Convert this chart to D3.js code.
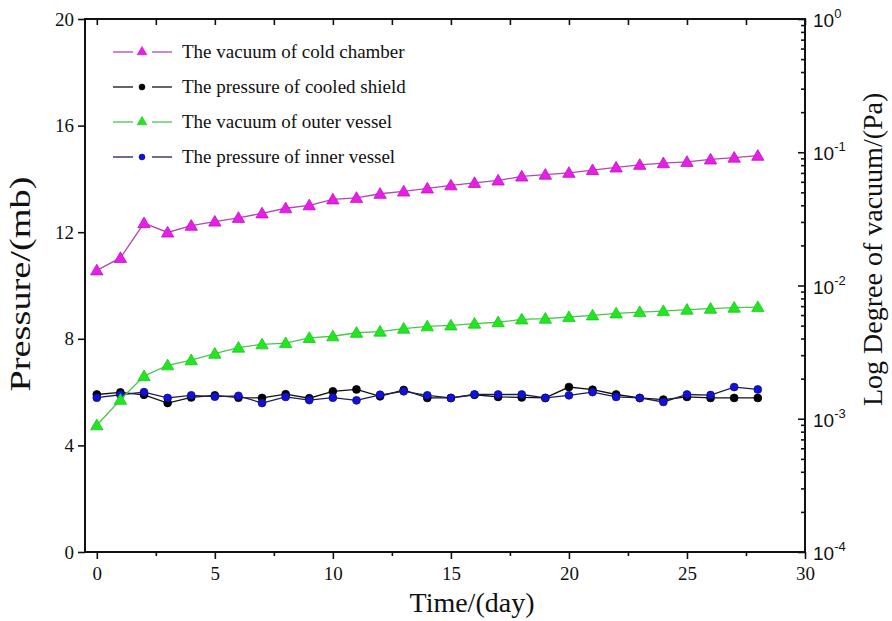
<!DOCTYPE html>
<html lang="en">
<head>
<meta charset="UTF-8">
<title>Pressure and vacuum</title>
<script src="https://cdn.jsdelivr.net/npm/d3@7/dist/d3.min.js"></script>
<style>
    body { margin: 0; background: #fff; }
    svg { display: block; }
    .tick-lbl { font-family: "Liberation Serif", "Times New Roman", serif; font-size: 19px; fill: #111; }
    .log-lbl { font-family: "Liberation Sans", Arial, sans-serif; font-size: 19px; fill: #111; }
    .title { font-family: "Liberation Serif", "Times New Roman", serif; fill: #111; }
    .legend text { font-family: "Liberation Serif", "Times New Roman", serif; font-size: 19px; fill: #111; }
</style>
</head>
<body>
<div id="wrap"></div>
<script>
    // days 0..28
    var days = d3.range(0, 29);

    // vacuum (Pa), read on the right log axis
    var coldChamber = [0.0130, 0.0161, 0.0294, 0.0250, 0.0281, 0.0302, 0.0322, 0.0348, 0.0380, 0.0400,
        0.0443, 0.0455, 0.0488, 0.0508, 0.0535, 0.0565, 0.0589, 0.0614, 0.0658, 0.0679,
        0.0701, 0.0735, 0.0769, 0.0805, 0.0828, 0.0847, 0.0883, 0.0912, 0.0942];
    var outerVessel = [0.000894, 0.00139, 0.00209, 0.00252, 0.00275, 0.00308, 0.00342, 0.00362, 0.00370, 0.00404,
        0.00416, 0.00442, 0.00451, 0.00475, 0.00494, 0.00502, 0.00518, 0.00530, 0.00557, 0.00564,
        0.00580, 0.00597, 0.00618, 0.00632, 0.00643, 0.00659, 0.00670, 0.00682, 0.00689];

    // pressure (mb), read on the left axis
    var cooledShield = [5.91, 5.99, 5.90, 5.59, 5.80, 5.88, 5.79, 5.78, 5.92, 5.77,
        6.03, 6.10, 5.84, 6.08, 5.78, 5.78, 5.90, 5.82, 5.80, 5.78,
        6.19, 6.09, 5.91, 5.78, 5.72, 5.82, 5.78, 5.78, 5.78];
    var innerVessel = [5.79, 5.90, 6.00, 5.78, 5.88, 5.83, 5.86, 5.59, 5.82, 5.70,
        5.79, 5.69, 5.90, 6.03, 5.88, 5.78, 5.91, 5.91, 5.91, 5.78,
        5.88, 6.00, 5.82, 5.78, 5.63, 5.91, 5.89, 6.19, 6.10];

    var xTicks = [0, 5, 10, 15, 20, 25, 30];
    var yTicks = [0, 4, 8, 12, 16, 20];
    var logTicks = [1e-4, 1e-3, 1e-2, 1e-1, 1];
    var logExp = ['-4', '-3', '-2', '-1', '0'];

    var legendNames = ['The vacuum of cold chamber', 'The pressure of cooled shield',
        'The vacuum of outer vessel', 'The pressure of inner vessel'];

    var WIDTH = 892, HEIGHT = 621;
    var L = 85, R = 805, T = 19, B = 552;

    var svg = d3.select('#wrap').append('svg').attr('width', WIDTH).attr('height', HEIGHT);

    var x = d3.scaleLinear().domain([-0.5, 30]).range([L, R]);
    var y = d3.scaleLinear().domain([0, 20]).range([B, T]);
    var yLog = d3.scaleLog().domain([1e-4, 1]).range([B, T]);

    // series settings
    var series = [
        { name: legendNames[1], data: cooledShield, scale: y, line: '#111', fill: '#000', stroke: '#000', shape: 'circle' },
        { name: legendNames[3], data: innerVessel, scale: y, line: '#1c1c5c', fill: '#1010e0', stroke: '#10106a', shape: 'circle' },
        { name: legendNames[0], data: coldChamber, scale: yLog, line: '#b048b0', fill: '#e81ee8', stroke: '#c010c0', shape: 'tri' },
        { name: legendNames[2], data: outerVessel, scale: yLog, line: '#48c848', fill: '#1ee81e', stroke: '#20c020', shape: 'tri' }
    ];

    var triSym = d3.symbol().type(d3.symbolTriangle).size(66);
    var cirSym = d3.symbol().type(d3.symbolCircle).size(48);

    function drawMarker(g, shape, cx, cy, s) {
        g.append('path')
            .attr('d', shape == 'tri' ? triSym() : cirSym())
            .attr('transform', 'translate(' + cx + ',' + (shape == 'tri' ? cy + 1 : cy) + ')')
            .attr('fill', s.fill)
            .attr('stroke', s.stroke)
            .attr('stroke-width', 0.8);
    }

    var plot = svg.append('g');
    series.forEach(function(s) {
        var line = d3.line()
            .x(function(d, i) { return x(days[i]); })
            .y(function(d) { return s.scale(d); });
        var g = plot.append('g');
        g.append('path')
            .attr('d', line(s.data))
            .attr('fill', 'none')
            .attr('stroke', s.line)
            .attr('stroke-width', 1.3);
        s.data.forEach(function(d, i) {
            drawMarker(g, s.shape, x(days[i]), s.scale(d), s);
        });
    });

    // axes
    var ax = svg.append('g');
    // bottom
    ax.append('g').attr('transform', 'translate(0,' + B + ')')
        .call(d3.axisBottom(x).tickValues(xTicks).tickSize(7).tickFormat(d3.format('d')))
        .call(function(g) {
            g.select('.domain').remove();
            g.selectAll('text').attr('class', 'tick-lbl').attr('dy', '1em').attr('y', 9);
        });
    ax.append('g').attr('transform', 'translate(0,' + B + ')')
        .call(d3.axisBottom(x).tickValues(d3.range(2.5, 30, 5)).tickSize(4).tickFormat(''))
        .call(function(g) { g.select('.domain').remove(); });
    // top, inward
    ax.append('g').attr('transform', 'translate(0,' + T + ')')
        .call(d3.axisBottom(x).tickValues(d3.range(0, 30.1, 2.5)).tickSize(6).tickFormat(''))
        .call(function(g) { g.select('.domain').remove(); });
    // left
    ax.append('g').attr('transform', 'translate(' + L + ',0)')
        .call(d3.axisLeft(y).tickValues(yTicks).tickSize(7).tickFormat(d3.format('d')))
        .call(function(g) {
            g.select('.domain').remove();
            g.selectAll('text').attr('class', 'tick-lbl').attr('x', -11);
        });
    // right, log
    var minors = [];
    for (var e = -4; e < 0; e++) {
        for (var m = 2; m < 10; m++) minors.push(m * Math.pow(10, e));
    }
    var rg = ax.append('g').attr('transform', 'translate(' + R + ',0)');
    rg.call(d3.axisLeft(yLog).tickValues(minors).tickSize(4).tickFormat(''))
        .call(function(g) { g.select('.domain').remove(); });
    var rMaj = ax.append('g').attr('transform', 'translate(' + R + ',0)');
    rMaj.call(d3.axisLeft(yLog).tickValues(logTicks).tickSize(7).tickFormat(''))
        .call(function(g) { g.select('.domain').remove(); });
    logTicks.forEach(function(t, i) {
        var txt = ax.append('text').attr('class', 'log-lbl')
            .attr('x', R + 8).attr('y', yLog(t) + 8);
        txt.append('tspan').text('10');
        txt.append('tspan').attr('dy', -9).attr('font-size', 13).text(logExp[i]);
    });

    ax.selectAll('.tick line').attr('stroke', '#111').attr('stroke-width', 1.6);

    // frame
    ax.append('rect')
        .attr('x', L).attr('y', T).attr('width', R - L).attr('height', B - T)
        .attr('fill', 'none').attr('stroke', '#111').attr('stroke-width', 2);

    // titles
    svg.append('text').attr('class', 'title').attr('font-size', 28)
        .attr('text-anchor', 'middle').attr('x', 472).attr('y', 612)
        .text('Time/(day)');
    svg.append('text').attr('class', 'title').attr('font-size', 30)
        .attr('text-anchor', 'middle')
        .attr('textLength', 215).attr('lengthAdjust', 'spacingAndGlyphs')
        .attr('transform', 'translate(30,' + 284 + ') rotate(-90)')
        .text('Pressure/(mb)');
    svg.append('text').attr('class', 'title').attr('font-size', 28)
        .attr('text-anchor', 'start')
        .attr('transform', 'translate(882,406) rotate(-90)')
        .text('Log Degree of vacuum/(Pa)');

    // legend
    var legOrder = [2, 0, 3, 1];
    var leg = svg.append('g').attr('class', 'legend');
    legOrder.forEach(function(k, i) {
        var s = series[k];
        var ly = 52 + i * 35;
        leg.append('line').attr('x1', 113).attr('x2', 133).attr('y1', ly).attr('y2', ly)
            .attr('stroke', s.line).attr('stroke-width', 1.3);
        leg.append('line').attr('x1', 152).attr('x2', 172).attr('y1', ly).attr('y2', ly)
            .attr('stroke', s.line).attr('stroke-width', 1.3);
        leg.append('path')
            .attr('d', s.shape == 'tri' ? d3.symbol().type(d3.symbolTriangle).size(40)() : d3.symbol().type(d3.symbolCircle).size(28)())
            .attr('transform', 'translate(142,' + ly + ')')
            .attr('fill', s.fill).attr('stroke', s.stroke).attr('stroke-width', 0.6);
        leg.append('text').attr('x', 182).attr('y', ly + 6).text(s.name);
    });
</script>
</body>
</html>
